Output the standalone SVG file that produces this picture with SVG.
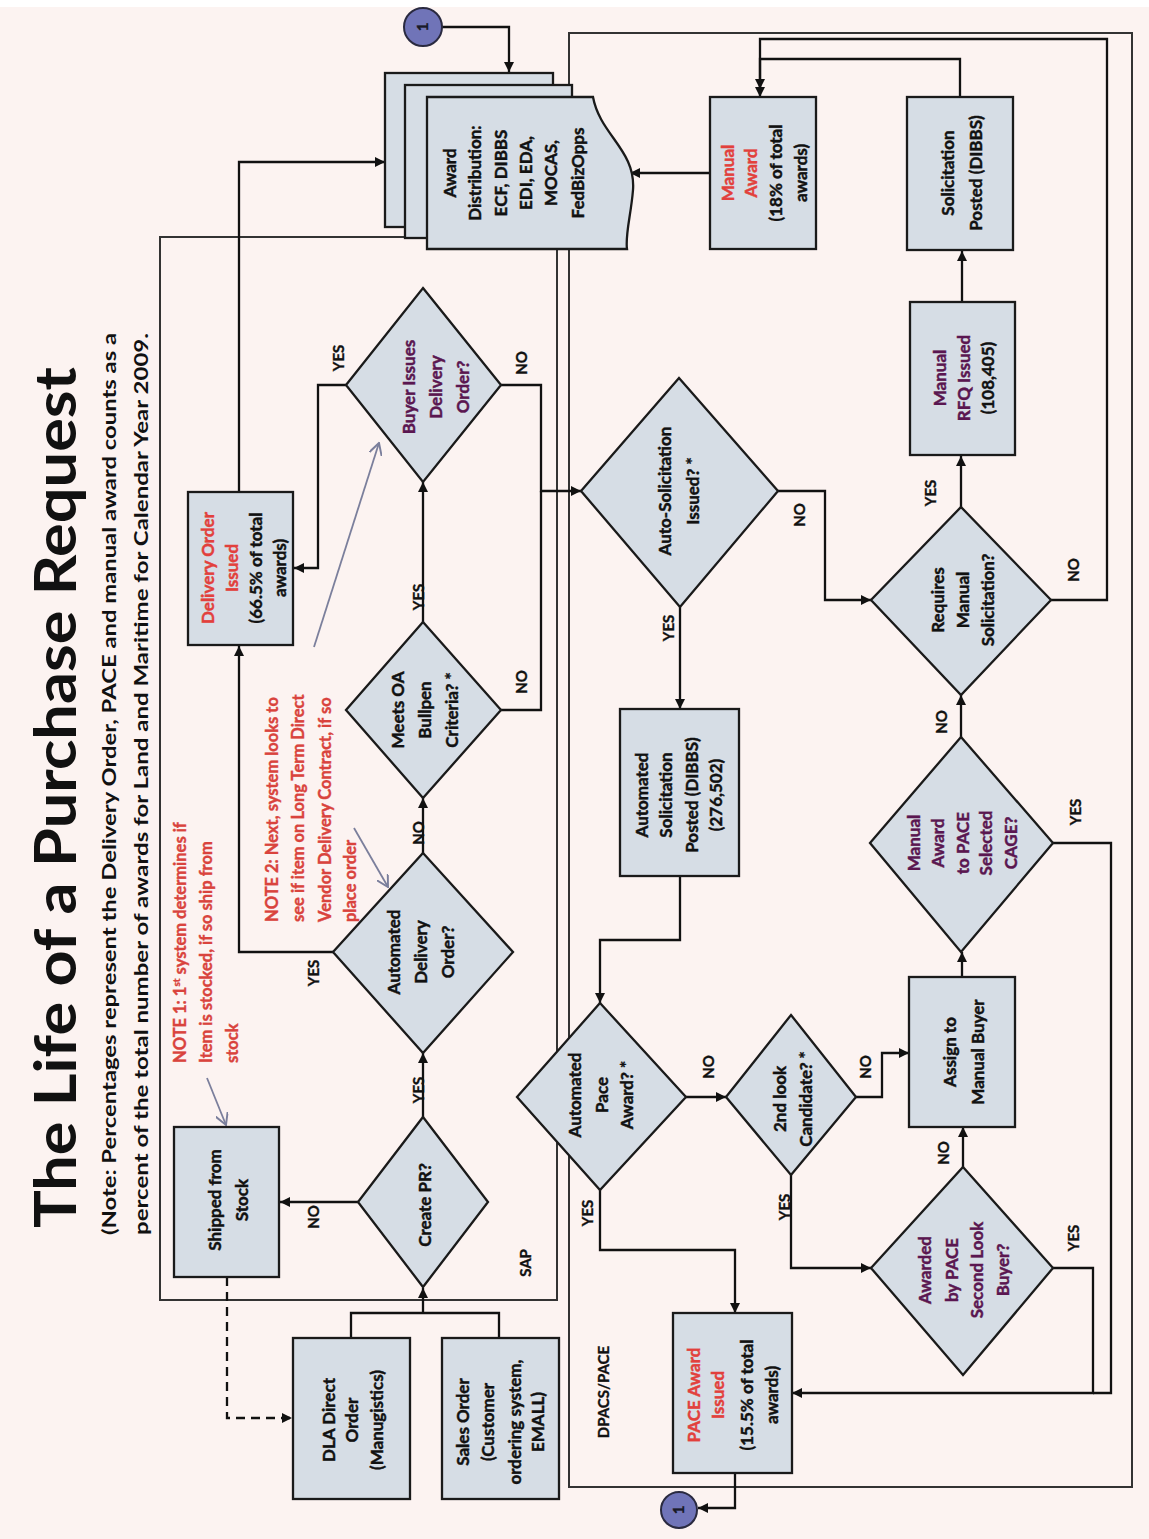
<svg xmlns="http://www.w3.org/2000/svg" width="1149" height="1539" viewBox="0 0 1149 1539">
<defs>
<style>
.box{fill:#d6dde5;stroke:#1a1a1a;stroke-width:2.3}
.frame{fill:none;stroke:#333;stroke-width:2}
.con{fill:none;stroke:#111;stroke-width:2.3}
.dash{fill:none;stroke:#111;stroke-width:2.3;stroke-dasharray:9,6}
.note{fill:none;stroke:#7b7f9c;stroke-width:1.8}
text{font-family:Lato,"Liberation Sans",sans-serif;font-weight:700;fill:#111}
.t{font-size:17px;text-anchor:middle;stroke:#111;stroke-width:0.45}
.lbl{font-size:15px;text-anchor:middle;stroke:#111;stroke-width:0.35}
.red{fill:#e2403c;stroke:#e2403c}
.pur{fill:#5a1650;stroke:#5a1650}
.nt{font-size:16.5px;fill:#d9433d;stroke:#d9433d;stroke-width:0.4;text-anchor:start}
</style>
<marker id="arr" viewBox="0 0 10 10" refX="10" refY="5" markerWidth="11" markerHeight="10" markerUnits="userSpaceOnUse" orient="auto"><path d="M0,0 L10,5 L0,10 z" fill="#111"/></marker>
<marker id="garr" viewBox="0 0 10 10" refX="9" refY="5" markerWidth="13" markerHeight="13" markerUnits="userSpaceOnUse" orient="auto"><path d="M0,0 L9,5 L0,10" fill="none" stroke="#7b7f9c" stroke-width="1.5"/></marker>
</defs>
<rect x="0" y="0" width="1149" height="1539" fill="#fcf3f1"/>
<rect x="0" y="0" width="1149" height="7" fill="#ffffff"/>

<g id="title">
<text transform="translate(76,1228) rotate(-90)" font-size="58" textLength="861" lengthAdjust="spacingAndGlyphs">The Life of a Purchase Request</text>
<text transform="translate(116,1235) rotate(-90)" font-size="19" textLength="902" lengthAdjust="spacingAndGlyphs">(Note:  Percentages represent the Delivery Order, PACE  and manual award counts as a</text>
<text transform="translate(148,1235) rotate(-90)" font-size="19" textLength="902" lengthAdjust="spacingAndGlyphs">percent of  the total  number of awards for Land and Maritime for Calendar Year 2009.</text>
</g>

<g id="containers">
<path class="frame" d="M405,237 H160 V1300 H557 V249"/>
<rect class="frame" x="569" y="33" width="563" height="1454"/>
<text class="lbl" transform="translate(526,1263) rotate(-90)" y="5">SAP</text>
<text class="lbl" transform="translate(604,1392) rotate(-90)" y="5">DPACS/PACE</text>
</g>

<g id="connectors">
<path class="con" d="M441,27 H509 V72" marker-end="url(#arr)"/>
<path class="con" d="M239,492 V162 H385" marker-end="url(#arr)"/>
<path class="con" d="M710,173 H630" marker-end="url(#arr)"/>
<path class="con" d="M960,97 V59 H760 V97" marker-end="url(#arr)"/>
<path class="con" d="M1051,600 H1107 V39 H760 V89" marker-end="url(#arr)"/>
<path class="con" d="M962,302 V251" marker-end="url(#arr)"/>
<path class="con" d="M961,507 V456" marker-end="url(#arr)"/>
<path class="con" d="M778,491 H825 V600 H871" marker-end="url(#arr)"/>
<path class="con" d="M680,607 V709" marker-end="url(#arr)"/>
<path class="con" d="M680,876 V940 H600 V1003" marker-end="url(#arr)"/>
<path class="con" d="M686,1097 H726" marker-end="url(#arr)"/>
<path class="con" d="M600,1190 V1250 H735 V1313" marker-end="url(#arr)"/>
<path class="con" d="M856,1097 H882 V1053 H909" marker-end="url(#arr)"/>
<path class="con" d="M791,1175 V1268 H871" marker-end="url(#arr)"/>
<path class="con" d="M963,1167 V1127" marker-end="url(#arr)"/>
<path class="con" d="M962,977 V952" marker-end="url(#arr)"/>
<path class="con" d="M961,737 V695" marker-end="url(#arr)"/>
<path class="con" d="M1053,1268 H1093 V1393 H792" marker-end="url(#arr)"/>
<path class="con" d="M1053,843 H1111 V1393 H1093"/>
<path class="con" d="M735,1473 V1508 H698" marker-end="url(#arr)"/>
<path class="con" d="M351,1338 V1313 H499 V1338"/>
<path class="con" d="M423,1313 V1288" marker-end="url(#arr)"/>
<path class="con" d="M358,1202 H280" marker-end="url(#arr)"/>
<path class="dash" d="M227,1277 V1418 H292" marker-end="url(#arr)"/>
<path class="con" d="M423,1117 V1053" marker-end="url(#arr)"/>
<path class="con" d="M333,952 H239 V646" marker-end="url(#arr)"/>
<path class="con" d="M423,853 V798" marker-end="url(#arr)"/>
<path class="con" d="M423,622 V482" marker-end="url(#arr)"/>
<path class="con" d="M346,385 H318 V568 H294" marker-end="url(#arr)"/>
<path class="con" d="M501,385 H541 V491 H581" marker-end="url(#arr)"/>
<path class="con" d="M501,710 H541 V491"/>
<path class="note" d="M207,1078 L226,1125" marker-end="url(#garr)"/>
<path class="note" d="M354,828 L388,887" marker-end="url(#garr)"/>
<path class="note" d="M314,647 L379,443" marker-end="url(#garr)"/>
</g>

<g id="labels">
<text class="lbl" transform="translate(339,358) rotate(-90)" y="5">YES</text>
<text class="lbl" transform="translate(522,363) rotate(-90)" y="5">NO</text>
<text class="lbl" transform="translate(419,597) rotate(-90)" y="5">YES</text>
<text class="lbl" transform="translate(522,682) rotate(-90)" y="5">NO</text>
<text class="lbl" transform="translate(419,833) rotate(-90)" y="5">NO</text>
<text class="lbl" transform="translate(314,973) rotate(-90)" y="5">YES</text>
<text class="lbl" transform="translate(419,1090) rotate(-90)" y="5">YES</text>
<text class="lbl" transform="translate(314,1217) rotate(-90)" y="5">NO</text>
<text class="lbl" transform="translate(800,515) rotate(-90)" y="5">NO</text>
<text class="lbl" transform="translate(669,628) rotate(-90)" y="5">YES</text>
<text class="lbl" transform="translate(931,493) rotate(-90)" y="5">YES</text>
<text class="lbl" transform="translate(1074,570) rotate(-90)" y="5">NO</text>
<text class="lbl" transform="translate(942,722) rotate(-90)" y="5">NO</text>
<text class="lbl" transform="translate(1076,812) rotate(-90)" y="5">YES</text>
<text class="lbl" transform="translate(709,1067) rotate(-90)" y="5">NO</text>
<text class="lbl" transform="translate(588,1213) rotate(-90)" y="5">YES</text>
<text class="lbl" transform="translate(866,1067) rotate(-90)" y="5">NO</text>
<text class="lbl" transform="translate(785,1207) rotate(-90)" y="5">YES</text>
<text class="lbl" transform="translate(944,1153) rotate(-90)" y="5">NO</text>
<text class="lbl" transform="translate(1074,1238) rotate(-90)" y="5">YES</text>
</g>

<g id="notes">
<text class="nt" transform="translate(186,1063) rotate(-90)">NOTE 1: 1<tspan font-size="10" dy="-6">st</tspan><tspan dy="6">  system determines if</tspan></text>
<text class="nt" transform="translate(212,1063) rotate(-90)">Item is stocked, if so ship from</text>
<text class="nt" transform="translate(238,1063) rotate(-90)">stock</text>
<text class="nt" transform="translate(278,922) rotate(-90)">NOTE 2: Next, system looks to</text>
<text class="nt" transform="translate(304,922) rotate(-90)">see if item on Long Term Direct</text>
<text class="nt" transform="translate(331,922) rotate(-90)">Vendor Delivery Contract, if so</text>
<text class="nt" transform="translate(356,922) rotate(-90)">place order</text>
</g>

<g id="circle-top">
<circle cx="423" cy="27" r="19" fill="#7074b8" stroke="#2a2a40" stroke-width="2"/>
<text class="lbl" transform="translate(423,27) rotate(-90)" y="5" style="fill:#1a1a2a">1</text>
</g>
<g id="circle-bottom">
<circle cx="679" cy="1510" r="18" fill="#7074b8" stroke="#2a2a40" stroke-width="2"/>
<text class="lbl" transform="translate(679,1510) rotate(-90)" y="5" style="fill:#1a1a2a">1</text>
</g>

<g id="award-distribution">
<rect class="box" x="385" y="73" width="168" height="154"/>
<rect class="box" x="405" y="85" width="167" height="153"/>
<path class="box" d="M427,97 H593 C600,135 636,150 633,190 C631,215 625,235 627,249 H427 Z"/>
<text class="t" transform="translate(514,173) rotate(-90)"><tspan x="0" y="-58">Award</tspan><tspan x="0" y="-33">Distribution:</tspan><tspan x="0" y="-7">ECF, DIBBS</tspan><tspan x="0" y="18">EDI, EDA,</tspan><tspan x="0" y="43">MOCAS,</tspan><tspan x="0" y="70">FedBizOpps</tspan></text>
</g>

<g id="manual-award">
<rect class="box" x="710" y="97" width="106" height="152"/>
<text class="t" transform="translate(764,173) rotate(-90)"><tspan x="0" y="-30" class="red">Manual</tspan><tspan x="0" y="-7" class="red">Award</tspan><tspan x="0" y="18">(18% of total</tspan><tspan x="0" y="43">awards)</tspan></text>
</g>

<g id="solicitation-posted">
<rect class="box" x="907" y="97" width="106" height="153"/>
<text class="t" transform="translate(962,173) rotate(-90)"><tspan x="0" y="-8">Solicitation</tspan><tspan x="0" y="20">Posted (DIBBS)</tspan></text>
</g>

<g id="manual-rfq">
<rect class="box" x="910" y="302" width="105" height="153"/>
<text class="t" transform="translate(964,378) rotate(-90)"><tspan x="0" y="-18" class="pur">Manual</tspan><tspan x="0" y="6" class="pur">RFQ Issued</tspan><tspan x="0" y="30">(108,405)</tspan></text>
</g>

<g id="requires-manual">
<polygon class="box" points="961,507 1051,600 961,695 871,600"/>
<text class="t" transform="translate(963,600) rotate(-90)"><tspan x="0" y="-19">Requires</tspan><tspan x="0" y="6">Manual</tspan><tspan x="0" y="31">Solicitation?</tspan></text>
</g>

<g id="auto-solicitation">
<polygon class="box" points="679,378 778,491 680,607 581,491"/>
<text class="t" transform="translate(679,491) rotate(-90)"><tspan x="0" y="-8">Auto-Solicitation</tspan><tspan x="0" y="20">Issued? *</tspan></text>
</g>

<g id="automated-solicitation-posted">
<rect class="box" x="620" y="709" width="119" height="167"/>
<text class="t" transform="translate(679,795) rotate(-90)"><tspan x="0" y="-31">Automated</tspan><tspan x="0" y="-7">Solicitation</tspan><tspan x="0" y="19">Posted (DIBBS)</tspan><tspan x="0" y="43">(276,502)</tspan></text>
</g>

<g id="automated-pace">
<polygon class="box" points="600,1003 686,1097 600,1190 517,1097"/>
<text class="t" transform="translate(601,1095) rotate(-90)"><tspan x="0" y="-20">Automated</tspan><tspan x="0" y="7">Pace</tspan><tspan x="0" y="32">Award? *</tspan></text>
</g>

<g id="second-look">
<polygon class="box" points="791,1015 856,1097 791,1175 726,1097"/>
<text class="t" transform="translate(793,1099) rotate(-90)"><tspan x="0" y="-7">2nd look</tspan><tspan x="0" y="19">Candidate? *</tspan></text>
</g>

<g id="assign-manual-buyer">
<rect class="box" x="909" y="977" width="106" height="150"/>
<text class="t" transform="translate(964,1052) rotate(-90)"><tspan x="0" y="-8">Assign to</tspan><tspan x="0" y="20">Manual Buyer</tspan></text>
</g>

<g id="awarded-second-look">
<polygon class="box" points="963,1167 1053,1268 963,1375 871,1268"/>
<text class="t pur" transform="translate(964,1270) rotate(-90)"><tspan x="0" y="-33">Awarded</tspan><tspan x="0" y="-6">by PACE</tspan><tspan x="0" y="19">Second Look</tspan><tspan x="0" y="45">Buyer?</tspan></text>
</g>

<g id="manual-award-cage">
<polygon class="box" points="961,737 1053,843 961,952 870,843"/>
<text class="t pur" transform="translate(962,843) rotate(-90)"><tspan x="0" y="-42">Manual</tspan><tspan x="0" y="-18">Award</tspan><tspan x="0" y="7">to PACE</tspan><tspan x="0" y="30">Selected</tspan><tspan x="0" y="55">CAGE?</tspan></text>
</g>

<g id="pace-award-issued">
<rect class="box" x="673" y="1313" width="119" height="160"/>
<text class="t" transform="translate(733,1395) rotate(-90)"><tspan x="0" y="-33" class="red">PACE Award</tspan><tspan x="0" y="-9" class="red">Issued</tspan><tspan x="0" y="20">(15.5% of total</tspan><tspan x="0" y="45">awards)</tspan></text>
</g>

<g id="create-pr">
<polygon class="box" points="423,1117 488,1202 423,1287 358,1202"/>
<text class="t" transform="translate(425,1205) rotate(-90)" y="6">Create PR?</text>
</g>

<g id="shipped-from-stock">
<rect class="box" x="174" y="1127" width="105" height="150"/>
<text class="t" transform="translate(228,1200) rotate(-90)"><tspan x="0" y="-7">Shipped from</tspan><tspan x="0" y="20">Stock</tspan></text>
</g>

<g id="dla-direct-order">
<rect class="box" x="293" y="1338" width="117" height="161"/>
<text class="t" transform="translate(353,1420) rotate(-90)"><tspan x="0" y="-18">DLA Direct</tspan><tspan x="0" y="5">Order</tspan><tspan x="0" y="30">(Manugistics)</tspan></text>
</g>

<g id="sales-order">
<rect class="box" x="442" y="1338" width="117" height="161"/>
<text class="t" transform="translate(501,1422) rotate(-90)"><tspan x="0" y="-32">Sales Order</tspan><tspan x="0" y="-7">(Customer</tspan><tspan x="0" y="20">ordering system,</tspan><tspan x="0" y="43">EMALL)</tspan></text>
</g>

<g id="automated-delivery-order">
<polygon class="box" points="423,853 513,952 423,1053 333,952"/>
<text class="t" transform="translate(421,952) rotate(-90)"><tspan x="0" y="-21">Automated</tspan><tspan x="0" y="6">Delivery</tspan><tspan x="0" y="33">Order?</tspan></text>
</g>

<g id="meets-oa-bullpen">
<polygon class="box" points="423,622 501,710 423,798 346,710"/>
<text class="t" transform="translate(425,710) rotate(-90)"><tspan x="0" y="-21">Meets OA</tspan><tspan x="0" y="6">Bullpen</tspan><tspan x="0" y="33">Criteria? *</tspan></text>
</g>

<g id="buyer-issues-delivery-order">
<polygon class="box" points="423,288 501,385 423,482 346,385"/>
<text class="t pur" transform="translate(436,387) rotate(-90)"><tspan x="0" y="-21">Buyer Issues</tspan><tspan x="0" y="6">Delivery</tspan><tspan x="0" y="33">Order?</tspan></text>
</g>

<g id="delivery-order-issued">
<rect class="box" x="188" y="492" width="105" height="153"/>
<text class="t" transform="translate(244,568) rotate(-90)"><tspan x="0" y="-30" class="red">Delivery Order</tspan><tspan x="0" y="-6" class="red">Issued</tspan><tspan x="0" y="18">(66.5% of total</tspan><tspan x="0" y="42">awards)</tspan></text>
</g>
</svg>
